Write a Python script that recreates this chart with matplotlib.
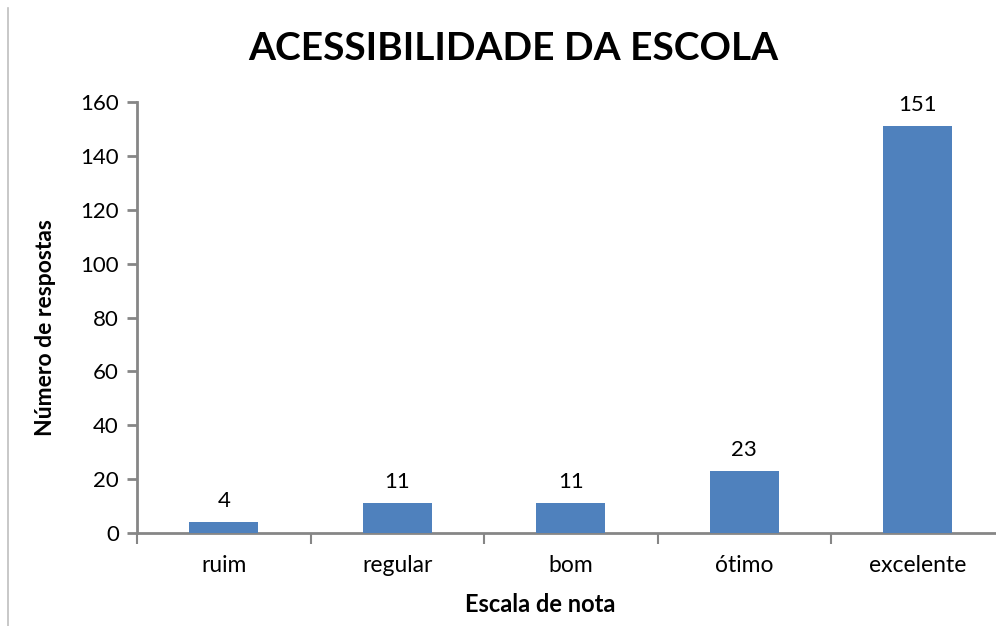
import matplotlib
matplotlib.use('Agg')
import matplotlib.pyplot as plt
from matplotlib.lines import Line2D

# Dados
categorias = ['ruim', 'regular', 'bom', 'ótimo', 'excelente']
respostas = [4, 11, 11, 23, 151]
yticks = [0, 20, 40, 60, 80, 100, 120, 140, 160]

plt.rcParams['font.family'] = ['Lato', 'DejaVu Sans']

cor_barra = '#4F81BD'
cor_eixo = '#868686'

fig = plt.figure(figsize=(9.96, 6.26), dpi=100)
W, H = 996, 626
x0, y0 = 137, 533
passo = 173.5
ax = fig.add_axes([x0 / W, (H - y0) / H, (W - x0) / W, 431 / H])

xs = range(len(categorias))
barras = ax.bar(xs, respostas, width=0.4, color=cor_barra, zorder=3)

for b, v in zip(barras, respostas):
    ax.annotate(str(v), (b.get_x() + b.get_width() / 2, v), xytext=(0, 8),
                textcoords='offset points', ha='center', va='bottom', fontsize=16)

ax.set_xlim(-0.5, -0.5 + (W - x0) / passo)
ax.set_ylim(0, 160)
ax.set_yticks(yticks)
ax.tick_params(axis='y', length=7, width=2, color=cor_eixo, labelsize=16, pad=6)

ax.set_xticks(list(xs))
ax.set_xticklabels(categorias, fontsize=16.5)
ax.tick_params(axis='x', length=0, pad=16)
ax.set_xticks([i + 0.5 for i in range(len(categorias) - 1)] + [-0.5], minor=True)
ax.tick_params(axis='x', which='minor', length=8, width=1.5, color=cor_eixo)

for s in ['top', 'right']:
    ax.spines[s].set_visible(False)
for s in ['left', 'bottom']:
    ax.spines[s].set_color(cor_eixo)
    ax.spines[s].set_linewidth(2)

fig.text(46 / W, 1 - 328 / H, 'Número de respostas', rotation=90, ha='center', va='center',
         fontsize=16.5, fontweight='bold')
fig.text(540 / W, 1 - 605 / H, 'Escala de nota', ha='center', va='center',
         fontsize=17, fontweight='bold')

fig.text(513 / W, 1 - 48 / H, 'ACESSIBILIDADE DA ESCOLA', ha='center', va='center',
         fontsize=28, fontweight='bold')

# borda esquerda da imagem
fig.add_artist(Line2D([8 / W, 8 / W], [0, 1 - 8 / H], transform=fig.transFigure,
                      color='#BFBFBF', linewidth=1.2))

fig.savefig('out.png', dpi=100)
